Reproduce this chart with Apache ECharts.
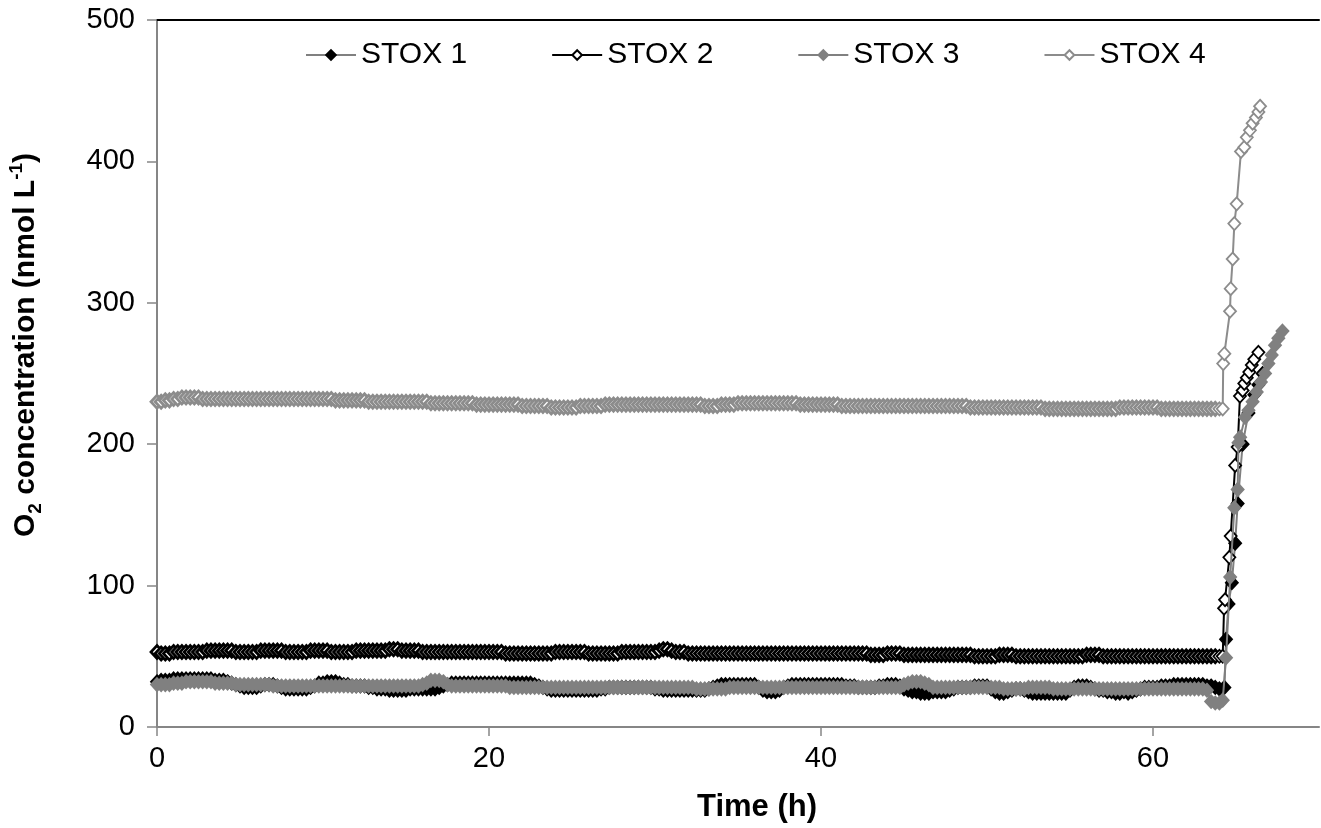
<!DOCTYPE html>
<html><head><meta charset="utf-8">
<script src="https://cdn.jsdelivr.net/npm/echarts@6/dist/echarts.min.js"></script>
<style>html,body{margin:0;padding:0;background:#fff}#c{width:1321px;height:828px}</style>
</head><body><div id="c"></div>
<script>
// sampling of the baseline records (h)
const TIME_START = 0, TIME_STEP = 0.25;
const SERIES_NAMES = ['STOX 1','STOX 2','STOX 3','STOX 4'];
const X_TICKS = [0,20,40,60];
const Y_TICKS = [0,100,200,300,400,500];

// baseline values, t = 0 .. 63.75 h every 0.25 h (rows of 10 h)
const STOX1_BASE = [
 32,33,33,33,34,34,34,34,34,34, 34,34,34,34,33,33,33,32,31,30, 29,28,28,28,28,29,30,30,30,29, 28,27,27,27,27,27,27,28,29,31,
 31,32,32,32,31,30,30,29,29,29, 29,28,28,27,27,27,26,26,26,26, 26,27,27,27,27,27,27,27,28,29, 30,31,31,31,31,31,31,31,31,31,
 31,31,31,31,31,31,31,31,31,31, 31,30,29,28,27,26,26,26,26,26, 26,26,26,26,26,26,26,27,27,28, 28,28,28,28,28,28,28,28,28,28,
 27,27,26,26,26,26,26,26,26,26, 26,26,26,27,28,29,30,30,30,30, 30,30,30,30,30,28,26,25,25,25, 26,28,29,30,30,30,30,30,30,30,
 30,30,30,30,30,30,29,29,29,28, 28,28,28,28,29,29,30,30,30,29, 27,26,25,25,24,24,24,25,25,25, 25,26,27,28,28,28,28,29,29,29,
 29,27,25,24,24,25,26,27,27,26, 25,24,24,24,24,24,24,24,24,24, 26,28,29,29,29,28,27,26,26,25, 25,24,24,25,24,25,26,27,28,28,
 28,28,29,29,29,30,30,30, 30,30,30,30,30,29,29,28];
const STOX2_BASE = [
 53,52,52,52,53,53,53,53,53,53, 53,53,54,54,54,54,54,54,54,53, 53,53,53,53,53,54,54,54,54,54, 54,53,53,53,53,53,53,54,54,54,
 54,54,53,53,53,53,53,53,54,54, 54,54,54,54,54,54,55,55,55,54, 54,54,54,54,53,53,53,53,53,53, 53,53,53,53,53,53,53,53,53,53,
 53,53,53,53,52,52,52,52,52,52, 52,52,52,52,52,52,53,53,53,53, 53,53,53,53,52,52,52,52,52,52, 52,52,53,53,53,53,53,53,53,53,
 53,54,55,55,54,53,53,53,52,52, 52,52,52,52,52,52,52,52,52,52, 52,52,52,52,52,52,52,52,52,52, 52,52,52,52,52,52,52,52,52,52,
 52,52,52,52,52,52,52,52,52,52, 52,52,51,51,51,51,52,52,52,52, 51,51,51,51,51,51,51,51,51,51, 51,51,51,51,51,51,51,50,50,50,
 50,50,50,51,51,51,51,50,50,50, 50,50,50,50,50,50,50,50,50,50, 50,50,50,50,51,51,51,51,50,50, 50,50,50,50,50,50,50,50,50,50,
 50,50,50,50,50,50,50,50, 50,50,50,50,50,50,50,50];
const STOX3_BASE = [
 30,30,30,30,31,31,31,32,32,32, 32,32,32,32,31,31,31,31,31,30, 30,30,30,30,30,30,30,30,29,29, 29,29,29,29,29,29,29,29,29,29,
 29,29,29,29,29,29,29,29,29,29, 29,29,29,29,29,29,29,29,29,29, 29,29,29,29,30,31,33,33,33,32, 30,29,29,29,29,29,29,29,29,29,
 29,29,29,29,29,28,28,28,28,28, 28,28,28,28,28,28,28,28,28,28, 28,28,28,28,28,28,28,28,28,28, 28,28,28,28,28,28,28,28,28,28,
 28,28,28,28,28,28,28,28,28,28, 27,27,27,27,27,27,27,27,28,28, 28,28,28,28,28,28,28,28,28,28, 28,28,28,28,28,28,28,28,28,28,
 28,28,28,28,28,28,28,28,28,28, 28,28,28,28,28,28,28,28,28,28, 30,31,32,32,32,31,30,28,28,28, 28,28,28,28,28,28,28,28,28,28,
 28,28,28,28,27,27,27,27,27,27, 28,28,28,28,28,28,27,27,27,27, 27,27,27,27,27,27,27,27,27,27, 27,27,27,27,27,27,27,27,27,27,
 27,27,27,27,27,27,27,27, 27,27,27,27,27,26,18,17];
const STOX4_BASE = [
 230,230,231,231,232,232,233,233,233,233, 233,232,232,232,232,232,232,232,232,232, 232,232,232,232,232,232,232,232,232,232, 232,232,232,232,232,232,232,232,232,232,
 232,232,232,231,231,231,231,231,231,231, 231,230,230,230,230,230,230,230,230,230, 230,230,230,230,230,230,229,229,229,229, 229,229,229,229,229,229,229,228,228,228,
 228,228,228,228,228,228,228,228,227,227, 227,227,227,227,227,226,226,226,226,226, 226,226,227,227,227,227,227,227,228,228, 228,228,228,228,228,228,228,228,228,228,
 228,228,228,228,228,228,228,228,228,228, 228,228,227,227,227,227,228,228,228,228, 229,229,229,229,229,229,229,229,229,229, 229,229,229,229,229,228,228,228,228,228,
 228,228,228,228,228,227,227,227,227,227, 227,227,227,227,227,227,227,227,227,227, 227,227,227,227,227,227,227,227,227,227, 227,227,227,227,227,227,226,226,226,226,
 226,226,226,226,226,226,226,226,226,226, 226,226,226,226,225,225,225,225,225,225, 225,225,225,225,225,225,225,225,225,225, 225,225,226,226,226,226,226,226,226,226,
 226,226,225,225,225,225,225,225, 225,225,225,225,225,225,225,225];

// final rise, [time h, nmol/L]
const STOX1_TAIL = [[64.0,27],[64.3,28],[64.4,62],[64.55,87],[64.75,102],[64.95,130],[65.1,158],[65.4,200],[65.75,222],[66.1,235],[66.35,242],[66.6,250]];
const STOX2_TAIL = [[64.0,50],[64.2,50],[64.28,84],[64.34,90],[64.6,120],[64.68,135],[64.95,185],[65.1,198],[65.24,234],[65.4,238],[65.5,243],[65.65,247],[65.8,251],[65.95,256],[66.1,260],[66.35,265]];
const STOX3_TAIL = [[64.0,17],[64.2,19],[64.4,49],[64.65,106],[64.9,155],[65.1,168],[65.15,201],[65.25,205],[65.55,219],[65.75,224],[66.0,230],[66.25,237],[66.5,244],[66.75,250],[66.95,257],[67.15,263],[67.35,270],[67.55,275],[67.8,280]];
const STOX4_TAIL = [[64.0,225],[64.2,225],[64.23,257],[64.3,264],[64.64,294],[64.68,310],[64.8,331],[64.9,356],[65.04,370],[65.3,407],[65.5,410],[65.65,417],[65.84,422],[66.0,427],[66.2,431],[66.35,435],[66.45,439]];

const FONT = 'Liberation Sans, Arial, sans-serif';
const styles = [
  {line:'#808080', fill:'#000000', border:'#000000', hollow:false},
  {line:'#000000', fill:'#ffffff', border:'#000000', hollow:true},
  {line:'#808080', fill:'#808080', border:'#808080', hollow:false},
  {line:'#8c8c8c', fill:'#ffffff', border:'#8c8c8c', hollow:true}
];
// dense baseline records overlap; hollow markers there read as a heavy band
function build(base, tail, st){
  const out = base.map((v,i)=>{
    const p = [TIME_START + i*TIME_STEP, v];
    return st.hollow ? {value:p, itemStyle:{borderWidth:2.8}} : p;
  });
  return out.concat(tail);
}
const datas = [
  build(STOX1_BASE,STOX1_TAIL,styles[0]),
  build(STOX2_BASE,STOX2_TAIL,styles[1]),
  build(STOX3_BASE,STOX3_TAIL,styles[2]),
  build(STOX4_BASE,STOX4_TAIL,styles[3])
];

const chart = echarts.init(document.getElementById('c'), null, {renderer:'canvas'});
chart.setOption({
  animation:false,
  backgroundColor:'#fff',
  grid:{left:157, right:2, top:20, bottom:101, containLabel:false},
  legend:{
    data:SERIES_NAMES, left:300, top:35, itemWidth:50, itemHeight:12, itemGap:84,
    textStyle:{fontFamily:FONT, fontSize:30, color:'#000'}
  },
  xAxis:[{
    type:'value', min:0, max:70, interval:20, position:'bottom',
    axisLine:{show:true, lineStyle:{color:'#868686', width:2}},
    axisTick:{show:true, inside:false, length:9, lineStyle:{color:'#868686', width:1.5}},
    axisLabel:{showMaxLabel:false, margin:17, fontFamily:FONT, fontSize:29, color:'#000',
      formatter:v=>X_TICKS.includes(v)?String(v):''},
    splitLine:{show:false}
  },{
    type:'value', min:0, max:70, position:'top',
    axisLine:{show:true, onZero:false, lineStyle:{color:'#000', width:2}},
    axisTick:{show:false}, axisLabel:{show:false}, splitLine:{show:false}
  }],
  yAxis:{
    type:'value', min:0, max:500, interval:100,
    axisLine:{show:true, lineStyle:{color:'#868686', width:2}},
    axisTick:{show:true, inside:false, length:10, lineStyle:{color:'#868686', width:1.5}},
    axisLabel:{margin:22, fontFamily:FONT, fontSize:29, color:'#000',
      formatter:v=>Y_TICKS.includes(v)?String(v):''},
    splitLine:{show:false}
  },
  graphic:[
    {type:'text', x:757, y:807, style:{text:'Time (h)', font:'bold 31px '+FONT, fill:'#000', align:'center', verticalAlign:'middle'}},
    {type:'text', x:26, y:345, rotation:Math.PI/2,
      style:{text:'{b|O}{s|2}{b| concentration (nmol L}{p|-1}{b|)}', align:'center', verticalAlign:'middle',
        rich:{
          b:{font:'bold 30px '+FONT, fill:'#000', lineHeight:38, verticalAlign:'middle'},
          s:{font:'bold 19px '+FONT, fill:'#000', lineHeight:38, verticalAlign:'bottom'},
          p:{font:'bold 19px '+FONT, fill:'#000', lineHeight:38, verticalAlign:'top'}
        }}}
  ],
  series: SERIES_NAMES.map((n,i)=>({
    name:n, type:'line', data:datas[i], xAxisIndex:0,
    symbol:'diamond', symbolSize:[12,13], showAllSymbol:true,
    lineStyle:{color:styles[i].line, width:2},
    itemStyle:{color:styles[i].fill, borderColor:styles[i].border, borderWidth:1.8},
    emphasis:{disabled:true}, z:2+i
  }))
});
</script></body></html>
